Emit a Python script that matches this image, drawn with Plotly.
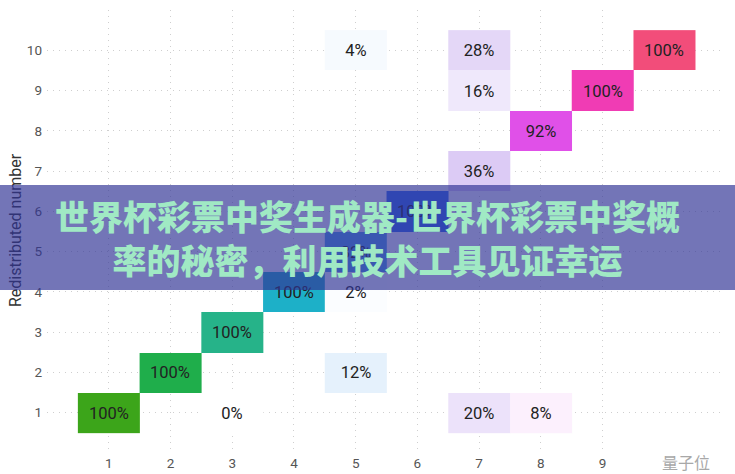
import plotly.graph_objects as go

# ---- data ----
original_numbers = [1, 2, 3, 4, 5, 6, 7, 8, 9, 10]
redistributed = [1, 2, 3, 4, 5, 6, 7, 8, 9, 10]
# share (%) of each original number redistributed to each number (index = redistributed - 1); None = no cell
share_1 = [100, None, None, None, None, None, None, None, None, None]
share_2 = [None, 100, None, None, None, None, None, None, None, None]
share_3 = [0, None, 100, None, None, None, None, None, None, None]
share_4 = [None, None, None, 100, None, None, None, None, None, None]
share_5 = [None, 12, None, 2, 82, None, None, None, None, 4]
share_6 = [None, None, None, None, None, 100, None, None, None, None]
share_7 = [20, None, None, None, None, None, 36, None, 16, 28]
share_8 = [8, None, None, None, None, None, None, 92, None, None]
share_9 = [None, None, None, None, None, None, None, None, 100, None]
share_10 = [None, None, None, None, None, None, None, None, None, 100]
shares = [share_1, share_2, share_3, share_4, share_5, share_6, share_7, share_8, share_9, share_10]
column_colors = ["#3ca51a", "#1fae4b", "#26b389", "#1db0c8", "#2a8ee6",
                 "#2f6ef0", "#9e6fe4", "#dd41e6", "#f03cb4", "#f24d7a"]
x_tick_labels = ["1", "2", "3", "4", "5", "6", "7", "8", "9"]
y_tick_labels = [str(v) for v in redistributed]
y_title = "Redistributed number"
banner_text = "世界杯彩票中奖生成器-世界杯彩票中奖概<br>率的秘密，利用技术工具见证幸运"
watermark = "量子位"

fig = go.Figure()
for xv, col, color in zip(original_numbers, shares, column_colors):
    fig.add_trace(go.Heatmap(
        x=[xv], y=redistributed,
        z=[[v] for v in col],
        text=[["" if v is None else f"{v}%"] for v in col],
        texttemplate="%{text}",
        textfont=dict(family="Roboto", size=16.5, color="#222222"),
        colorscale=[[0, "#ffffff"], [1, color]],
        zmin=0, zmax=100, showscale=False, hoverinfo="skip",
    ))

W, H = 735, 474
L, R, T, B = 47, 12, 10, 21
pw, ph = W - L - R, H - T - B

def px_x(p):
    return (p - L) / pw

def px_y(p):
    return (H - B - p) / ph

fig.update_layout(
    width=W, height=H,
    margin=dict(l=L, r=R, t=T, b=B, autoexpand=False),
    paper_bgcolor="white", plot_bgcolor="white",
    font=dict(family="Roboto", color="#555555"),
    showlegend=False,
)
grid_style = dict(showgrid=True, gridcolor="#cfcfcf", griddash="1px,5px", gridwidth=1.2,
                  zeroline=False, showline=False, ticks="", automargin=False,
                  tickfont=dict(size=13.5, color="#555555"))
fig.update_xaxes(range=[0, 10.95], tickvals=original_numbers[:9], ticktext=x_tick_labels, **grid_style)
fig.update_yaxes(range=[0, 11], tickvals=redistributed, ticktext=y_tick_labels,
                 ticklabelstandoff=4, **grid_style)

# y-axis title
fig.add_annotation(
    xref="paper", yref="paper", x=px_x(15), y=px_y(230),
    xanchor="center", yanchor="middle", textangle=-90,
    text=y_title, showarrow=False,
    font=dict(family="Roboto", size=16, color="#333333"),
)
# watermark
fig.add_annotation(
    xref="paper", yref="paper",
    x=px_x(686), y=px_y(462),
    xanchor="center", yanchor="middle",
    text=watermark, showarrow=False,
    font=dict(family="Noto Sans CJK SC", size=16, color="#a8a8a8"),
)
# banner overlay
fig.add_annotation(
    xref="paper", yref="paper",
    x=px_x(W / 2), y=px_y(237.5),
    xanchor="center", yanchor="middle",
    text=banner_text, showarrow=False,
    width=W, height=105, borderpad=0, borderwidth=0,
    bgcolor="rgba(49,51,149,0.68)",
    font=dict(family="Noto Sans CJK SC Black, Noto Sans CJK SC", size=34, color="#a0e9c4", weight=900),
    align="center",
)

fig.write_html("out.html", config={"displayModeBar": False},
               post_script="document.body.style.margin='0';")
